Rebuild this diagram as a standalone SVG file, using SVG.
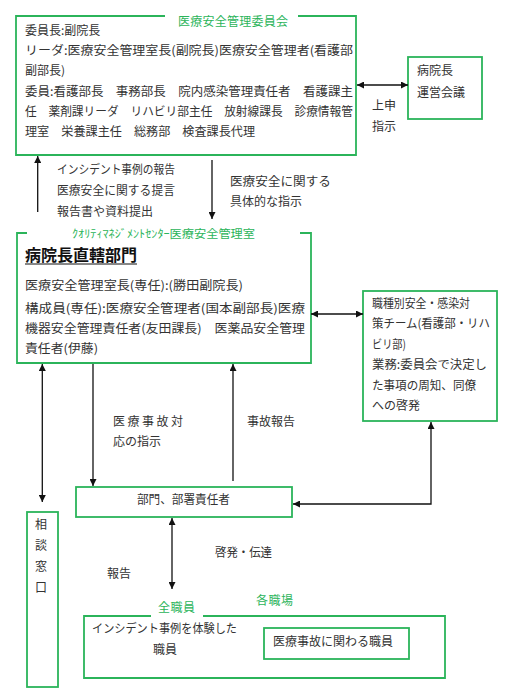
<svg xmlns="http://www.w3.org/2000/svg" width="510" height="700" viewBox="0 0 510 700">
  <style>
    .t { font-family: "Noto Sans CJK JP", "Liberation Sans", sans-serif; font-size: 12px; fill: #333; }
    .g { font-family: "Noto Sans CJK JP", "Liberation Sans", sans-serif; font-size: 12px; fill: #2bb45a; }
    .box { fill: none; stroke: #2bb45a; stroke-width: 1.8; }
    .ln { fill: none; stroke: #111; stroke-width: 1.3; }
  </style>
  <defs>
    <marker id="ah" viewBox="0 0 10 10" refX="10" refY="5" markerWidth="7" markerHeight="7" markerUnits="userSpaceOnUse" orient="auto-start-reverse">
      <path d="M0,0 L10,5 L0,10 z" fill="#111"/>
    </marker>
  </defs>
  <rect width="510" height="700" fill="#fff"/>

  <g id="committee">
    <path class="box" d="M165,16 H16 V155 H356 V16 H298"/>
    <text class="g" x="178" y="25.5" textLength="110">医療安全管理委員会</text>
    <text class="t" x="25" y="34.5">委員長:副院長</text>
    <text class="t" x="25" y="54.5" textLength="328" lengthAdjust="spacingAndGlyphs">リーダ:医療安全管理室長(副院長)医療安全管理者(看護部</text>
    <text class="t" x="25" y="74.5">副部長)</text>
    <text class="t" x="25" y="95.5" textLength="328" lengthAdjust="spacingAndGlyphs" xml:space="preserve">委員:看護部長　事務部長　院内感染管理責任者　看護課主</text>
    <text class="t" x="25" y="115.5" textLength="328" lengthAdjust="spacingAndGlyphs" xml:space="preserve">任　薬剤課リーダ　リハビリ部主任　放射線課長　診療情報管</text>
    <text class="t" x="25" y="135.5" textLength="230" lengthAdjust="spacingAndGlyphs" xml:space="preserve">理室　栄養課主任　総務部　検査課長代理</text>
  </g>

  <g id="director-meeting">
    <rect class="box" x="408" y="57" width="74" height="62"/>
    <text class="t" x="417" y="75">病院長</text>
    <text class="t" x="417" y="96.5">運営会議</text>
  </g>

  <g id="safety-office">
    <path class="box" d="M27,233 H17 V363 H311 V233 H300"/>
    <text class="g" x="72" y="237.5" style="font-size:11px" textLength="183" lengthAdjust="spacingAndGlyphs">ｸｵﾘﾃｨﾏﾈｼﾞﾒﾝﾄｾﾝﾀｰ医療安全管理室</text>
    <text class="t" x="25" y="261" style="font-size:16px;font-weight:bold;fill:#111" textLength="112" lengthAdjust="spacingAndGlyphs">病院長直轄部門</text>
    <line x1="25" y1="264" x2="137" y2="264" stroke="#111" stroke-width="1.2"/>
    <text class="t" x="25" y="290" textLength="218" lengthAdjust="spacingAndGlyphs">医療安全管理室長(専任):(勝田副院長)</text>
    <text class="t" x="25" y="312.5" textLength="280" lengthAdjust="spacingAndGlyphs">構成員(専任):医療安全管理者(国本副部長)医療</text>
    <text class="t" x="25" y="332.5" textLength="280" lengthAdjust="spacingAndGlyphs" xml:space="preserve">機器安全管理責任者(友田課長)　医薬品安全管理</text>
    <text class="t" x="25" y="352.5" textLength="73" lengthAdjust="spacingAndGlyphs">責任者(伊藤)</text>
  </g>

  <g id="team">
    <rect class="box" x="363" y="291" width="134" height="130"/>
    <text class="t" x="372" y="307.5" textLength="98" lengthAdjust="spacingAndGlyphs">職種別安全・感染対</text>
    <text class="t" x="372" y="328" textLength="118" lengthAdjust="spacingAndGlyphs">策チーム(看護部・リハ</text>
    <text class="t" x="372" y="348.5" textLength="34" lengthAdjust="spacingAndGlyphs">ビリ部)</text>
    <text class="t" x="372" y="369" textLength="115" lengthAdjust="spacingAndGlyphs">業務:委員会で決定し</text>
    <text class="t" x="372" y="389.5" textLength="104" lengthAdjust="spacingAndGlyphs">た事項の周知、同僚</text>
    <text class="t" x="372" y="410">への啓発</text>
  </g>

  <g id="department">
    <rect class="box" x="76" y="487" width="216" height="30"/>
    <text class="t" x="137" y="504" textLength="93" lengthAdjust="spacingAndGlyphs">部門、部署責任者</text>
  </g>

  <g id="consult">
    <rect class="box" x="27" y="512" width="31" height="175"/>
    <text class="t" x="41" y="528.5" text-anchor="middle">相</text>
    <text class="t" x="41" y="549.5" text-anchor="middle">談</text>
    <text class="t" x="41" y="570.5" text-anchor="middle">窓</text>
    <text class="t" x="41" y="591.5" text-anchor="middle">口</text>
  </g>

  <g id="all-staff">
    <path class="box" d="M151,616 H84 V678 H445 V616 H203"/>
    <text class="g" x="158" y="611.5" textLength="37">全職員</text>
    <text class="g" x="256" y="604.5" textLength="37">各職場</text>
    <text class="t" x="92" y="633" textLength="145" lengthAdjust="spacingAndGlyphs">インシデント事例を体験した</text>
    <text class="t" x="153" y="653.5">職員</text>
  </g>

  <g id="involved-staff">
    <rect class="box" x="264" y="628" width="145" height="31"/>
    <text class="t" x="273" y="645.5" textLength="120" lengthAdjust="spacingAndGlyphs">医療事故に関わる職員</text>
  </g>

  <g id="connectors">
    <line class="ln" x1="357" y1="85" x2="408" y2="85" marker-start="url(#ah)" marker-end="url(#ah)"/>
    <line class="ln" x1="37.7" y1="212" x2="37.7" y2="156" marker-end="url(#ah)"/>
    <line class="ln" x1="212" y1="160" x2="212" y2="219" marker-end="url(#ah)"/>
    <line class="ln" x1="311" y1="314" x2="363" y2="314" marker-start="url(#ah)" marker-end="url(#ah)"/>
    <line class="ln" x1="42.3" y1="364" x2="42.3" y2="502" stroke="#444" marker-start="url(#ah)" marker-end="url(#ah)"/>
    <line class="ln" x1="93" y1="364" x2="93" y2="486" stroke="#666" marker-end="url(#ah)"/>
    <line class="ln" x1="233" y1="481" x2="233" y2="364" marker-end="url(#ah)"/>
    <polyline class="ln" points="431,422 431,504 293,504" stroke="#666" stroke-width="1.6" marker-start="url(#ah)" marker-end="url(#ah)"/>
    <line class="ln" x1="172" y1="518" x2="172" y2="589" marker-start="url(#ah)" marker-end="url(#ah)"/>
  </g>

  <g id="labels">
    <text class="t" x="57" y="173.5" textLength="118" lengthAdjust="spacingAndGlyphs">インシデント事例の報告</text>
    <text class="t" x="57" y="195" textLength="118" lengthAdjust="spacingAndGlyphs">医療安全に関する提言</text>
    <text class="t" x="57" y="215.5" textLength="96" lengthAdjust="spacingAndGlyphs">報告書や資料提出</text>
    <text class="t" x="230" y="186" textLength="101" lengthAdjust="spacingAndGlyphs">医療安全に関する</text>
    <text class="t" x="230" y="206" textLength="72" lengthAdjust="spacingAndGlyphs">具体的な指示</text>
    <text class="t" x="372" y="109.5">上申</text>
    <text class="t" x="372" y="131">指示</text>
    <text class="t" x="113" y="425.5" textLength="70">医療事故対</text>
    <text class="t" x="113" y="445.5">応の指示</text>
    <text class="t" x="247" y="425.5">事故報告</text>
    <text class="t" x="215" y="556.5" textLength="57" lengthAdjust="spacingAndGlyphs">啓発・伝達</text>
    <text class="t" x="107" y="577.5">報告</text>
  </g>
</svg>
